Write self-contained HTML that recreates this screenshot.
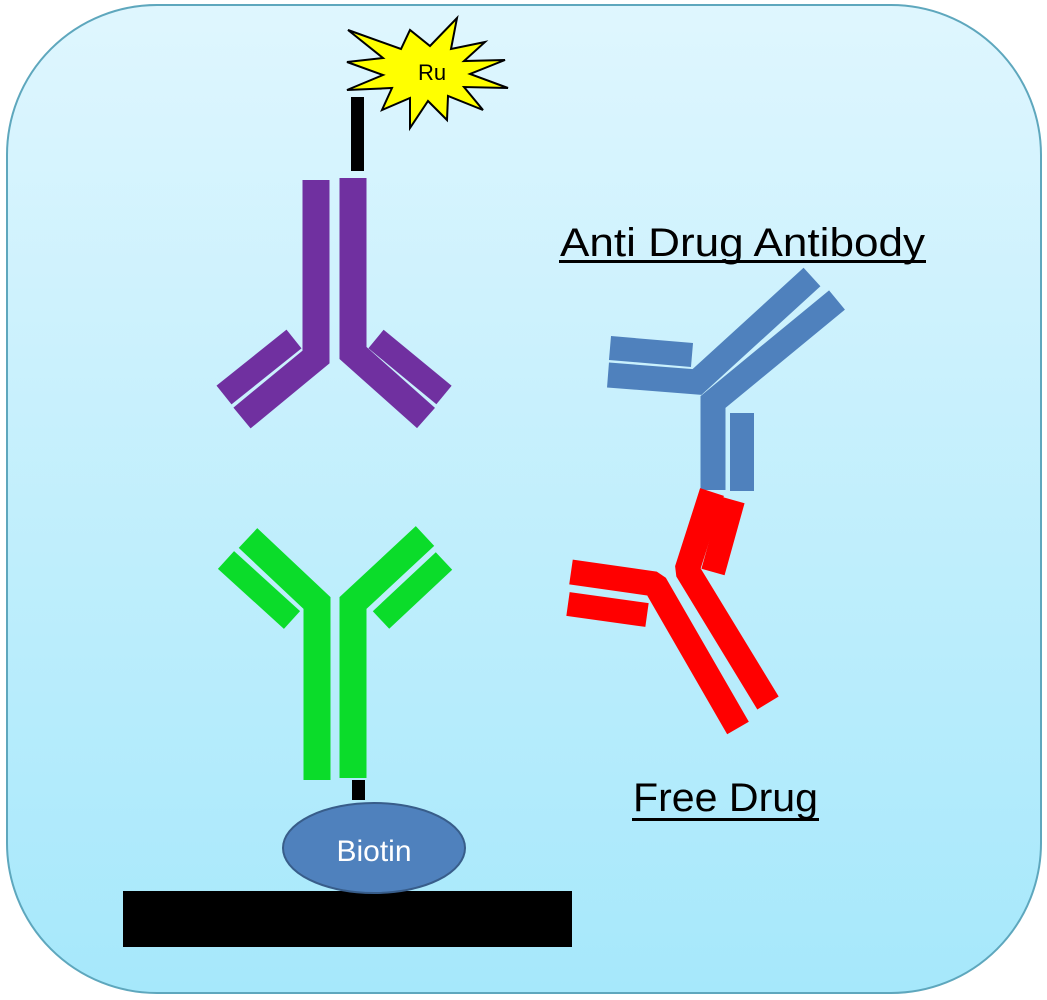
<!DOCTYPE html>
<html><head><meta charset="utf-8"><style>
html,body{margin:0;padding:0;background:#fff;}
svg{display:block;}
</style></head><body>
<svg width="1047" height="1000" viewBox="0 0 1047 1000" xmlns="http://www.w3.org/2000/svg">
<defs>
<linearGradient id="bg" x1="0" y1="0" x2="0" y2="1">
<stop offset="0" stop-color="#dff6fe"/>
<stop offset="1" stop-color="#a6e8fb"/>
</linearGradient>
</defs>
<rect x="7" y="5" width="1034" height="988" rx="150" ry="150" fill="url(#bg)" stroke="#5ea7bd" stroke-width="2"/>

<!-- Ru star -->
<polygon points="348,30 401,49 410,30 430,46 457,18 451,49 485,42 464,61 505,60 470,74 508,88 464,87 483,110 448,96 447,120 428,101 410,128 410,98 382,110 392,88 347,90 383,75 347,62 383,58" fill="#ffff00" stroke="#000" stroke-width="2" stroke-linejoin="miter"/>
<text x="432" y="80" font-family="Liberation Sans, sans-serif" font-size="22" text-anchor="middle" fill="#000">Ru</text>
<rect x="351" y="97" width="13" height="74" fill="#000"/>

<!-- Purple antibody -->
<g fill="none" stroke="#7030a0" stroke-width="27" stroke-linejoin="miter" stroke-linecap="butt">
<polyline points="316,180 316,357 242,418"/>
<polyline points="353,178 353,353 426,418"/>
</g>
<g fill="none" stroke="#7030a0" stroke-width="24" stroke-linecap="butt">
<line x1="294" y1="339" x2="224" y2="395"/>
<line x1="376" y1="339" x2="444" y2="395"/>
</g>

<!-- Green antibody -->
<g fill="none" stroke="#0bdc2a" stroke-width="27" stroke-linejoin="miter" stroke-linecap="butt">
<polyline points="317,780 317,603 248,538"/>
<polyline points="353,778 353,603 425,536"/>
</g>
<g fill="none" stroke="#0bdc2a" stroke-width="24" stroke-linecap="butt">
<line x1="292" y1="620" x2="226" y2="560"/>
<line x1="381" y1="620" x2="444" y2="561"/>
</g>
<rect x="352" y="780" width="13" height="20" fill="#000"/>

<!-- Biotin -->
<rect x="123" y="891" width="449" height="56" fill="#000"/>
<ellipse cx="374" cy="848" rx="91" ry="45" fill="#4f81bd" stroke="#385d8a" stroke-width="2"/>
<text x="374" y="861" font-family="Liberation Sans, sans-serif" font-size="30" text-anchor="middle" fill="#fff">Biotin</text>

<!-- Blue antibody -->
<g fill="none" stroke="#4f81bd" stroke-width="25" stroke-linejoin="miter" stroke-linecap="butt">
<polyline points="837,300 713,402 713,490"/>
<polyline points="608,375 697,382 812,277"/>
</g>
<g fill="none" stroke="#4f81bd" stroke-width="24" stroke-linecap="butt">
<line x1="610" y1="348" x2="692" y2="355"/>
<line x1="742" y1="413" x2="742" y2="491"/>
</g>

<!-- Red antibody -->
<g fill="none" stroke="#ff0000" stroke-width="25" stroke-linejoin="bevel" stroke-linecap="butt">
<polyline points="712,492 687,570 768,703"/>
<polyline points="571,572 655,584 738,728"/>
</g>
<g fill="none" stroke="#ff0000" stroke-width="24" stroke-linecap="butt">
<line x1="568" y1="604" x2="647" y2="615"/>
<line x1="733" y1="500" x2="713" y2="572"/>
</g>

<!-- Labels -->
<text x="560" y="256" font-family="Liberation Sans, sans-serif" font-size="40" textLength="365" lengthAdjust="spacingAndGlyphs" fill="#000">Anti Drug Antibody</text>
<rect x="559" y="260" width="367" height="3" fill="#000"/>
<text x="633" y="811" font-family="Liberation Sans, sans-serif" font-size="40" textLength="185" lengthAdjust="spacingAndGlyphs" fill="#000">Free Drug</text>
<rect x="632" y="818" width="187" height="3" fill="#000"/>
</svg>
</body></html>
